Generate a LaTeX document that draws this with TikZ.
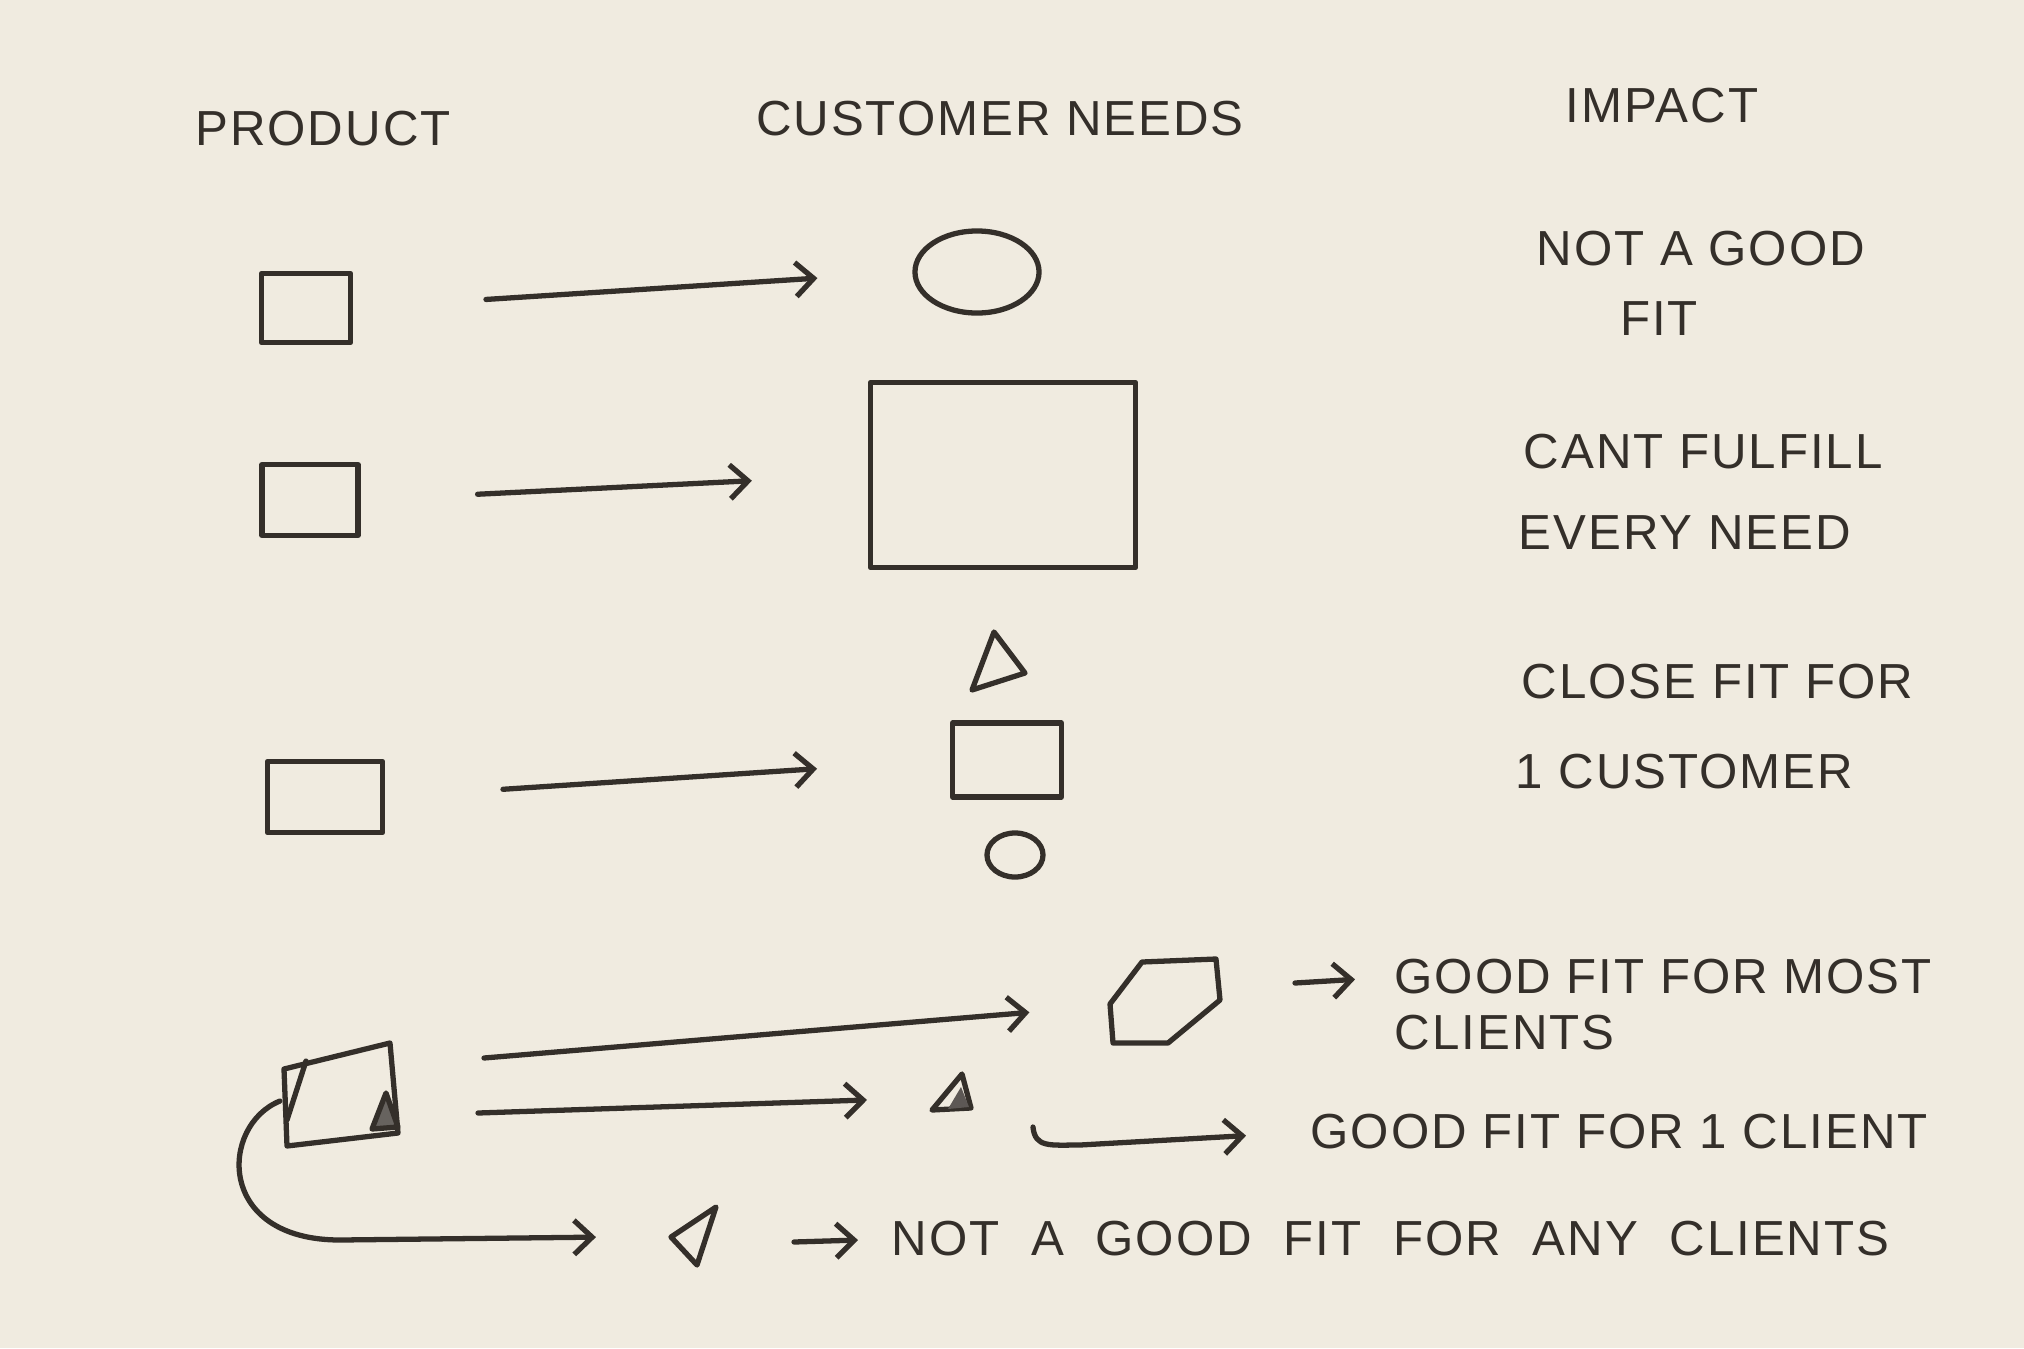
\documentclass[tikz,border=0pt]{standalone}
\usepackage{fontspec}
\newfontfamily\handfont[LetterSpace=4]{Liberation Sans}
\usetikzlibrary{positioning, calc, arrows.meta, shapes.geometric}
\definecolor{paper}{RGB}{240,235,224}
\definecolor{ink}{RGB}{52,47,42}
\tikzset{
  pen/.style={draw=ink, line width=1.5pt, line join=round, line cap=round},
  prodbox/.style={pen, rectangle, inner sep=0pt},
  needoval/.style={pen, ellipse, inner sep=0pt},
  arr/.style={pen, -{Straight Barb[length=1.8mm,width=3.4mm]}},
  hand/.style={text=ink, font=\handfont\fontsize{14}{17}\selectfont, inner sep=0pt},
}
\begin{document}
\begin{tikzpicture}[x=0.01cm, y=-0.01cm]
    \fill[paper] (0,0) rectangle (2024,1348);
    \useasboundingbox (0,0) rectangle (2024,1348);

    % Column headings
    \node[hand] (hprod) at (323,129) {PRODUCT};
    \node[hand] (hneed) at (1000,119) {CUSTOMER NEEDS};
    \node[hand] (himp) at (1662,106) {IMPACT};

    % Row 1: small product, round need
    \node[prodbox, minimum width=0.89cm, minimum height=0.69cm] (p1) at (306,308) {};
    \node[needoval, minimum width=1.24cm, minimum height=0.82cm] (n1) at (977,272) {};
    \draw[arr, shorten <=1.33cm, shorten >=0.95cm] (p1.east) -- (n1.west);
    \node[hand, anchor=west] (t1a) at (1536,249) {NOT A GOOD};
    \node[hand] (t1b) at (1659,319) {FIT};

    % Row 2: small product, big need
    \node[prodbox, minimum width=0.96cm, minimum height=0.71cm] (p2) at (310,500) {};
    \node[prodbox, minimum width=2.65cm, minimum height=1.85cm] (n2) at (1003,475) {};
    \draw[arr, shorten <=1.17cm, shorten >=1.16cm] (p2.east) -- (n2.west);
    \node[hand, anchor=west] (t2a) at (1523,452) {CANT FULFILL};
    \node[hand, anchor=west] (t2b) at (1518,533) {EVERY NEED};

    % Row 3: one product, three needs
    \node[prodbox, minimum width=1.15cm, minimum height=0.71cm] (p3) at (325,797) {};
    \coordinate (n3a) at (997,665);
    \draw[pen] (n3a) ++(-3,-33) -- ++(31,41) -- ++(-53,17) -- cycle;
    \node[prodbox, minimum width=1.09cm, minimum height=0.74cm] (n3b) at (1007,760) {};
    \node[needoval, minimum width=0.56cm, minimum height=0.44cm] (n3c) at (1015,855) {};
    \draw[arr, shorten <=1.18cm, shorten >=1.33cm] (p3.east) -- (n3b.west);
    \node[hand, anchor=west] (t3a) at (1521,682) {CLOSE FIT FOR};
    \node[hand, anchor=west] (t3b) at (1515,772) {1 CUSTOMER};

    % Row 4: split product
    \coordinate (p4) at (341,1095);
    \draw[pen] (p4) ++(-57,-26) -- ++(106,-26) -- ++(8,90) -- ++(-111,13) -- cycle;
    \draw[pen] (p4) ++(-35,-34) -- ++(-19,59);
    \filldraw[pen, fill=ink!75] (p4) ++(45,-2) -- ++(-14,36) -- ++(26,-2) -- cycle;

    \coordinate (n4a) at (1165,1001);
    \draw[pen] (n4a) ++(-23,-39) -- ++(74,-3) -- ++(4,41) -- ++(-52,43) -- ++(-55,0) -- ++(-3,-39) -- cycle;
    \coordinate (n4b) at (955,1097);
    \draw[pen] (n4b) ++(7,-23) -- ++(9,34) -- ++(-39,2) -- cycle;
    \fill[ink!80] (n4b) ++(6,-10) -- ++(8,20) -- ++(-21,2) -- cycle;

    \coordinate (a4s) at (484,1058);
    \draw[arr, shorten >=1.36cm] (a4s) -- (n4a);
    \coordinate (a5s) at (478,1113);
    \draw[arr, shorten >=0.88cm] (a5s) -- (n4b);

    \coordinate (a4t) at (1295,983);
    \node[hand, anchor=west] (t4a) at (1394,977) {GOOD FIT FOR MOST};
    \node[hand, anchor=west] (t4b) at (1394,1033) {CLIENTS};
    \draw[arr, shorten >=0.39cm] (a4t) -- (t4a.west);

    \coordinate (a5t) at (1033,1127);
    \node[hand, anchor=west] (t5) at (1310,1132) {GOOD FIT FOR 1 CLIENT};
    \draw[arr, shorten >=0.64cm] (a5t) .. controls (1035,1148) and (1050,1145) .. (1080,1145) -- (t5.west);

    % Remaining piece, fits nobody
    \coordinate (n6) at (695,1236);
    \draw[pen] (n6) ++(21,-29) -- ++(-19,58) -- ++(-26,-28) -- cycle;
    \coordinate (a6s) at (280,1101);
    \draw[arr, shorten >=0.99cm] (a6s) .. controls (220,1125) and (215,1240) .. (340,1240) -- (n6);

    \coordinate (a6t) at (794,1242);
    \node[hand, anchor=west] (t6) at (891,1239) {\spaceskip=9pt\relax NOT A GOOD FIT FOR ANY CLIENTS};
    \draw[arr, shorten >=0.33cm] (a6t) -- (t6.west);

\end{tikzpicture}
\end{document}
